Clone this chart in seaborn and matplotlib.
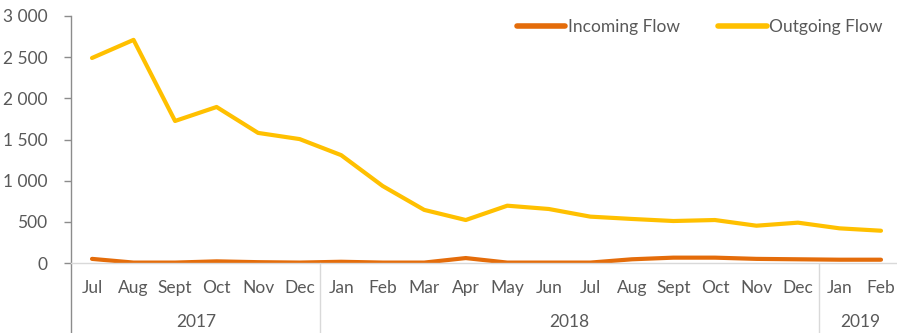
import matplotlib
matplotlib.use("Agg")
import matplotlib.pyplot as plt
import matplotlib.ticker as mticker
import matplotlib.transforms as mtransforms
import seaborn as sns
import pandas as pd

months = ["Jul", "Aug", "Sept", "Oct", "Nov", "Dec",
          "Jan", "Feb", "Mar", "Apr", "May", "Jun", "Jul", "Aug", "Sept", "Oct", "Nov", "Dec",
          "Jan", "Feb"]
years = ["2017", "2018", "2019"]
year_spans = [(0, 5), (6, 17), (18, 19)]

incoming = [50, 5, 5, 20, 10, 5, 15, 5, 5, 60, 5, 5, 5, 45, 65, 65, 50, 45, 40, 40]
outgoing = [2490, 2710, 1725, 1895, 1580, 1505, 1310, 935, 645, 522, 696, 656, 563,
            535, 510, 522, 453, 490, 421, 392]

series_names = ["Incoming Flow", "Outgoing Flow"]
colors = ["#E46C0A", "#FFC000"]
yticks = [0, 500, 1000, 1500, 2000, 2500, 3000]

df = pd.DataFrame({
    "idx": list(range(len(months))) * 2,
    "value": incoming + outgoing,
    "series": [series_names[0]] * len(months) + [series_names[1]] * len(months),
})

sns.set_theme(style="white")
plt.rcParams["font.family"] = ["Lato", "DejaVu Sans"]
text_color = "#595959"

fig = plt.figure(figsize=(8.97, 3.33), dpi=100)
W, H = 897, 333
left_px, right_px, bottom_px, top_px = 71.25, 901.75, 263, 16
ax = fig.add_axes([left_px / W, 1 - bottom_px / H,
                   (right_px - left_px) / W, (bottom_px - top_px) / H])

sns.lineplot(data=df, x="idx", y="value", hue="series", palette=colors,
             linewidth=3, ax=ax, legend=True)

ax.set_xlim(-0.5, len(months) - 0.5)
ax.set_ylim(0, 3000)
ax.set_yticks(yticks)
ax.yaxis.set_major_formatter(mticker.FuncFormatter(
    lambda v, p: f"{int(v):,}".replace(",", " ")))
ax.set_xticks(range(len(months)))
ax.set_xticklabels(months)
ax.set_xlabel("")
ax.set_ylabel("")

for s in ["top", "right"]:
    ax.spines[s].set_visible(False)
ax.spines["bottom"].set_color("#D9D9D9")
ax.spines["bottom"].set_linewidth(1.0)
ax.spines["left"].set_color("#8C8C8C")
ax.spines["left"].set_linewidth(1.0)

ax.tick_params(axis="y", which="major", left=True, length=5, width=1, color="#8C8C8C",
               labelsize=12.5, labelcolor=text_color, pad=12)
ax.tick_params(axis="x", which="major", bottom=False, length=0,
               labelsize=12.5, labelcolor=text_color, pad=12)

# category group separators and year labels below the axis
trans = mtransforms.blended_transform_factory(ax.transData, ax.transAxes)
depth = -(H - bottom_px) / (bottom_px - top_px)
ax.plot([-0.5, -0.5], [0, depth], transform=trans, color="#8C8C8C", lw=1, clip_on=False)
for (a, b) in year_spans[:-1]:
    ax.plot([b + 0.5, b + 0.5], [0, depth], transform=trans, color="#D9D9D9",
            lw=1, clip_on=False)
for yr, (a, b) in zip(years, year_spans):
    ax.text((a + b) / 2, -(322 - bottom_px) / (bottom_px - top_px), yr, transform=trans,
            ha="center", va="center", fontsize=12.5, color=text_color)

leg = ax.legend(loc="upper right", bbox_to_anchor=(0.996, 1.05), ncol=2, frameon=False,
                fontsize=12.5, handlelength=2.8, handletextpad=0.15, columnspacing=2.2,
                labelcolor=text_color)
for line in leg.get_lines():
    line.set_linewidth(4)

fig.savefig("out.png", dpi=100)
